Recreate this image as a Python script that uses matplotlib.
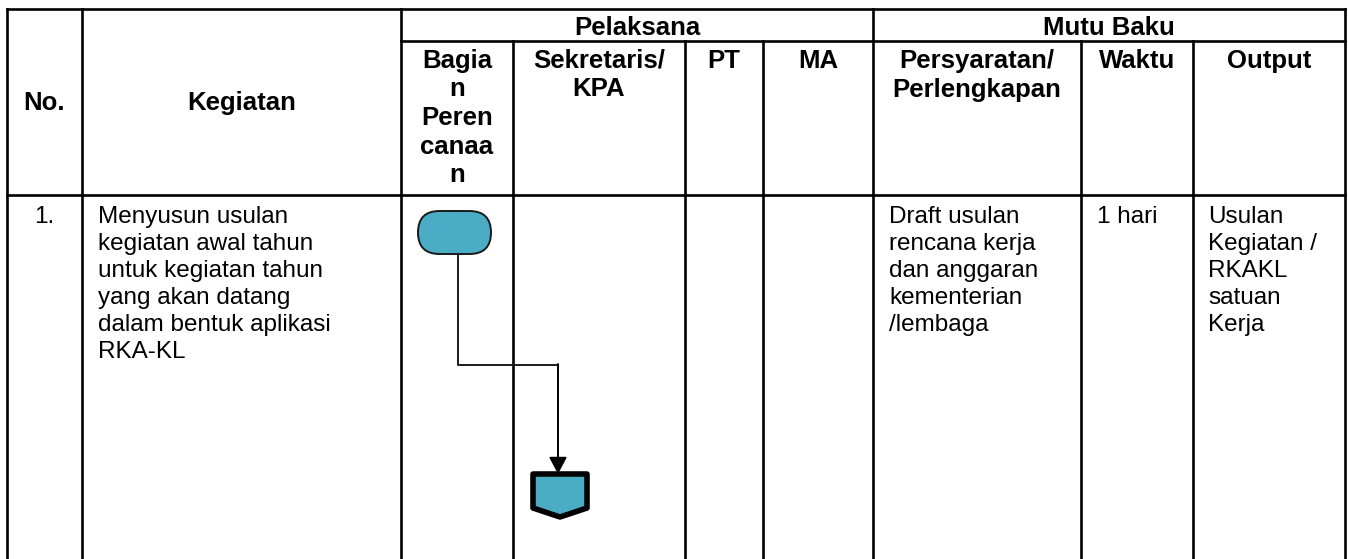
import matplotlib
matplotlib.use("Agg")
import matplotlib.pyplot as plt
from matplotlib.patches import FancyBboxPatch, Polygon

plt.rcParams["font.family"] = ["Liberation Sans", "DejaVu Sans"]

W, H = 1348, 559

# table grid, in pixels (y grows downward)
col_x = [7, 82, 401, 513, 685, 763, 873, 1081, 1193, 1345]
y_top, y_sub, y_head = 9, 41, 195

# header texts
no_label = "No."
kegiatan_label = "Kegiatan"
group_labels = ["Pelaksana", "Mutu Baku"]
sub_headers = [
    ["Bagia", "n", "Peren", "canaa", "n"],
    ["Sekretaris/", "KPA"],
    ["PT"],
    ["MA"],
    ["Persyaratan/", "Perlengkapan"],
    ["Waktu"],
    ["Output"],
]

# row 1 texts
row_no = "1."
kegiatan_lines = ["Menyusun usulan", "kegiatan awal tahun", "untuk kegiatan tahun",
                  "yang akan datang", "dalam bentuk aplikasi", "RKA-KL"]
syarat_lines = ["Draft usulan", "rencana kerja", "dan anggaran", "kementerian", "/lembaga"]
waktu_lines = ["1 hari"]
output_lines = ["Usulan", "Kegiatan /", "RKAKL", "satuan", "Kerja"]

FILL = "#4BACC6"
HEAD_FS = 18.5
BODY_FS = 17.5

fig = plt.figure(figsize=(W / 100, H / 100), dpi=100)
ax = fig.add_axes([0, 0, 1, 1])
ax.set_xlim(0, W)
ax.set_ylim(H, 0)
ax.axis("off")

lw = 1.9
# horizontal rules
ax.plot([col_x[0], col_x[-1]], [y_top, y_top], color="black", lw=lw)
ax.plot([col_x[2], col_x[-1]], [y_sub, y_sub], color="black", lw=lw)
ax.plot([col_x[0], col_x[-1]], [y_head, y_head], color="black", lw=lw)
# vertical rules: sub-columns start below the group row
for i, x in enumerate(col_x):
    top = y_sub if i in (3, 4, 5, 7, 8) else y_top
    ax.plot([x, x], [top, H], color="black", lw=lw)

# header text
mid_head = (y_top + y_head) / 2 + 8
ax.text((col_x[0] + col_x[1]) / 2, mid_head, no_label, ha="center", va="baseline",
        fontsize=HEAD_FS, fontweight="bold")
ax.text((col_x[1] + col_x[2]) / 2, mid_head, kegiatan_label, ha="center", va="baseline",
        fontsize=HEAD_FS, fontweight="bold")
ax.text((col_x[2] + col_x[6]) / 2, 35, group_labels[0], ha="center", va="baseline",
        fontsize=HEAD_FS, fontweight="bold")
ax.text((col_x[6] + col_x[9]) / 2, 35, group_labels[1], ha="center", va="baseline",
        fontsize=HEAD_FS, fontweight="bold")
for j, lines in enumerate(sub_headers):
    cx = (col_x[2 + j] + col_x[3 + j]) / 2
    for k, s in enumerate(lines):
        ax.text(cx, 68 + 28.5 * k, s, ha="center", va="baseline",
                fontsize=HEAD_FS, fontweight="bold")

# body text
base, pitch = 223, 27
ax.text((col_x[0] + col_x[1]) / 2, base, row_no, ha="center", va="baseline", fontsize=BODY_FS)
for left, lines in [(col_x[1] + 16, kegiatan_lines), (col_x[6] + 16, syarat_lines),
                    (col_x[7] + 16, waktu_lines), (col_x[8] + 15, output_lines)]:
    for k, s in enumerate(lines):
        ax.text(left, base + pitch * k, s, ha="left", va="baseline", fontsize=BODY_FS)

# flowchart: terminator -> connector line -> off-page connector
term = FancyBboxPatch((418, 211), 73, 43, boxstyle="round,pad=0,rounding_size=21.5",
                      facecolor=FILL, edgecolor="#1a1a1a", lw=1.4, zorder=3)
ax.add_patch(term)
ax.plot([458, 458, 558], [254, 365, 365], color="#1a1a1a", lw=1.4, zorder=2)
ax.annotate("", xy=(558, 474), xytext=(558, 364),
            arrowprops=dict(arrowstyle="-|>,head_length=0.85,head_width=0.45",
                            lw=1.4, color="black", shrinkA=0, shrinkB=0,
                            mutation_scale=12))
page = Polygon([(533, 474), (587, 474), (587, 508), (560, 517), (533, 508)],
               closed=True, facecolor=FILL, edgecolor="black", lw=4,
               joinstyle="round", zorder=3)
ax.add_patch(page)

fig.savefig("out.png", dpi=100)
